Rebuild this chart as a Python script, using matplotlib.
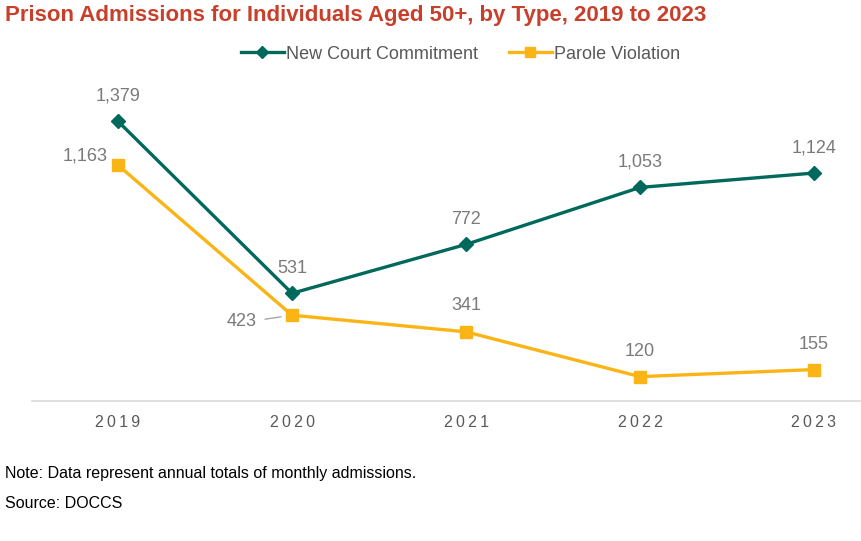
import matplotlib.pyplot as plt

plt.rcParams['font.family'] = ['Liberation Sans', 'DejaVu Sans']

years = ['2019', '2020', '2021', '2022', '2023']
new_court = [1379, 531, 772, 1053, 1124]
parole = [1163, 423, 341, 120, 155]

GREEN = '#00695C'
ORANGE = '#FBB416'
LABEL = '#7A7A7A'
TICK = '#595959'

fig = plt.figure(figsize=(8.62, 5.41), dpi=100)
ax = fig.add_axes([0.0371, 0.2588, 0.9606, 0.5998])

x = list(range(len(years)))
ax.plot(x, new_court, '-', color=GREEN, lw=2.4, marker='D', ms=7,
        label='New Court Commitment', zorder=3)
ax.plot(x, parole, '-', color=ORANGE, lw=2.4, marker='s', ms=9,
        label='Parole Violation', zorder=3)

ax.set_xlim(-0.4945, 4.2645)
ax.set_ylim(0, 1600)

# data labels, offsets in pixels
for i, v in enumerate(new_court):
    ax.annotate(f'{v:,}', (i, v), xytext=(0, 25), textcoords='offset pixels',
                ha='center', va='center', fontsize=13, color=LABEL)

par_off = [(-33, 9), (-50, -6), (0, 26), (0, 25), (0, 25)]
for i, v in enumerate(parole):
    ax.annotate(f'{v:,}', (i, v), xytext=par_off[i], textcoords='offset pixels',
                ha='center', va='center', fontsize=13, color=LABEL)

# leader line for 423
ax.annotate('', xy=(1, parole[1]), xytext=(-27, -4), textcoords='offset pixels',
            arrowprops=dict(arrowstyle='-', color='#A6A6A6', lw=1,
                            shrinkA=0, shrinkB=8))

for s in ['top', 'right', 'left']:
    ax.spines[s].set_visible(False)
ax.spines['bottom'].set_color('#D9D9D9')
ax.spines['bottom'].set_linewidth(1.2)
ax.set_yticks([])
ax.set_xticks(x)
ax.set_xticklabels(['\u2009'.join(y) for y in years])
ax.tick_params(axis='x', length=0, pad=10, labelsize=11.5, labelcolor=TICK)

fig.text(0.006, 0.972, 'Prison Admissions for Individuals Aged 50+, by Type, 2019 to 2023',
         fontsize=16, fontweight='bold', color='#C8402C', ha='left', va='center')

ax.legend(loc='center', bbox_to_anchor=(0.534, 0.900), bbox_transform=fig.transFigure,
          ncol=2, frameon=False, fontsize=13, handlelength=2.4, columnspacing=1.7,
          handletextpad=0.1, labelcolor=TICK, markerscale=0.85)

fig.text(0.006, 0.124, 'Note: Data represent annual totals of monthly admissions.',
         fontsize=11.5, color='black', ha='left', va='center')
fig.text(0.006, 0.070, 'Source: DOCCS', fontsize=11.5, color='black', ha='left', va='center')

fig.savefig('out.png', dpi=100)
